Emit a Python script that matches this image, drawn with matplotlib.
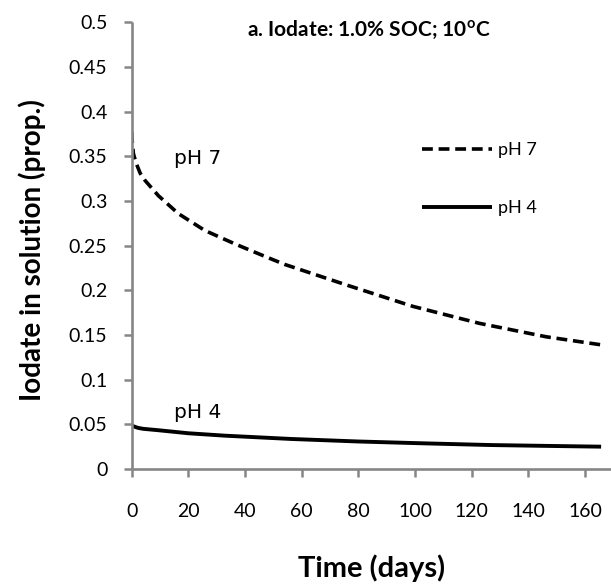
import matplotlib
matplotlib.use("Agg")
import matplotlib.pyplot as plt
from matplotlib.ticker import FixedLocator, FixedFormatter

# ---- data ----
days_ph7 = [0, 0.2, 0.6, 1.5, 3, 4.7, 9.4, 16.4, 25.8, 36.4, 47, 54, 75.8, 99.3, 122.8, 146.3, 165.7]
vals_ph7 = [0.377, 0.366, 0.353, 0.343, 0.331, 0.323, 0.306, 0.286, 0.267, 0.252, 0.238, 0.229,
            0.206, 0.182, 0.163, 0.148, 0.139]
days_ph4 = [0, 0.3, 1.5, 2.3, 4, 9.4, 20, 32.9, 56.4, 79.9, 103.4, 127, 150, 165.7]
vals_ph4 = [0.049, 0.0482, 0.0468, 0.0460, 0.0450, 0.0434, 0.040, 0.0373, 0.0336, 0.0308,
            0.0287, 0.0268, 0.0257, 0.025]
x_ticks = [0, 20, 40, 60, 80, 100, 120, 140, 160]
y_ticks = [0, 0.05, 0.1, 0.15, 0.2, 0.25, 0.3, 0.35, 0.4, 0.45, 0.5]
y_tick_labels = ["0", "0.05", "0.1", "0.15", "0.2", "0.25", "0.3", "0.35", "0.4", "0.45", "0.5"]
series_labels = ["pH 7", "pH 4"]
title = r"a. Iodate: 1.0% SOC; 10$^{\mathrm{o}}$C"
xlabel = "Time (days)"
ylabel = "Iodate in solution (prop.)"

plt.rcParams['mathtext.fontset'] = 'custom'
plt.rcParams['mathtext.rm'] = 'Lato:bold'
plt.rcParams['mathtext.it'] = 'Lato:bold'
plt.rcParams['mathtext.bf'] = 'Lato:bold'

W, H = 611, 587
fig = plt.figure(figsize=(W / 100, H / 100), dpi=100)
ax = fig.add_axes([131.7 / W, 1 - 469 / H, (611 - 131.7) / W, (469 - 22.3) / H])

gray = "#868686"
l7, = ax.plot(days_ph7, vals_ph7, color="black", lw=2.6, linestyle=(0, (3.0, 1.6)),
              label=series_labels[0], solid_capstyle="butt", dash_capstyle="butt")
l4, = ax.plot(days_ph4, vals_ph4, color="black", lw=2.8, label=series_labels[1],
              solid_capstyle="butt")

ax.set_xlim(0, 169.2)
ax.set_ylim(0, 0.5)
ax.xaxis.set_major_locator(FixedLocator(x_ticks))
ax.yaxis.set_major_locator(FixedLocator(y_ticks))
ax.yaxis.set_major_formatter(FixedFormatter(y_tick_labels))

for s in ["top", "right"]:
    ax.spines[s].set_visible(False)
for s in ["left", "bottom"]:
    ax.spines[s].set_color(gray)
    ax.spines[s].set_linewidth(1.9)
    ax.spines[s].set_capstyle("butt")

ax.tick_params(axis="both", direction="out", color=gray, width=1.8, length=5.5,
               labelsize=14)
ax.tick_params(axis="x", pad=19)
ax.tick_params(axis="y", pad=12)
for lab in ax.get_xticklabels() + ax.get_yticklabels():
    lab.set_fontfamily("Lato")

# in-plot annotations
ax.annotate("pH 7", xy=(174 / W, 1 - 158 / H), xycoords="figure fraction",
            fontsize=14.5, family="DejaVu Sans", va="center", ha="left")
ax.annotate("pH 4", xy=(174 / W, 1 - 412 / H), xycoords="figure fraction",
            fontsize=14.5, family="DejaVu Sans", va="center", ha="left")

# legend
leg = ax.legend(handles=[l7, l4], loc="upper left",
                bbox_to_anchor=(421.7 / W, 1 - 142 / H), bbox_transform=fig.transFigure,
                frameon=False, handlelength=3.9, handletextpad=0.35, labelspacing=2.35,
                borderpad=0, borderaxespad=0,
                prop={"family": "Lato", "size": 13})

# title and axis labels
fig.text(247 / W, 1 - 36 / H, title, fontsize=15, fontweight="bold", family="Lato",
         ha="left", va="baseline")
fig.text(372 / W, 1 - 568 / H, xlabel, fontsize=21, fontweight="bold", family="Lato",
         ha="center", va="center")
fig.text(32 / W, 1 - 250 / H, ylabel, fontsize=20, fontweight="bold", family="Lato",
         ha="center", va="center", rotation=90)

fig.savefig("out.png", dpi=100)
